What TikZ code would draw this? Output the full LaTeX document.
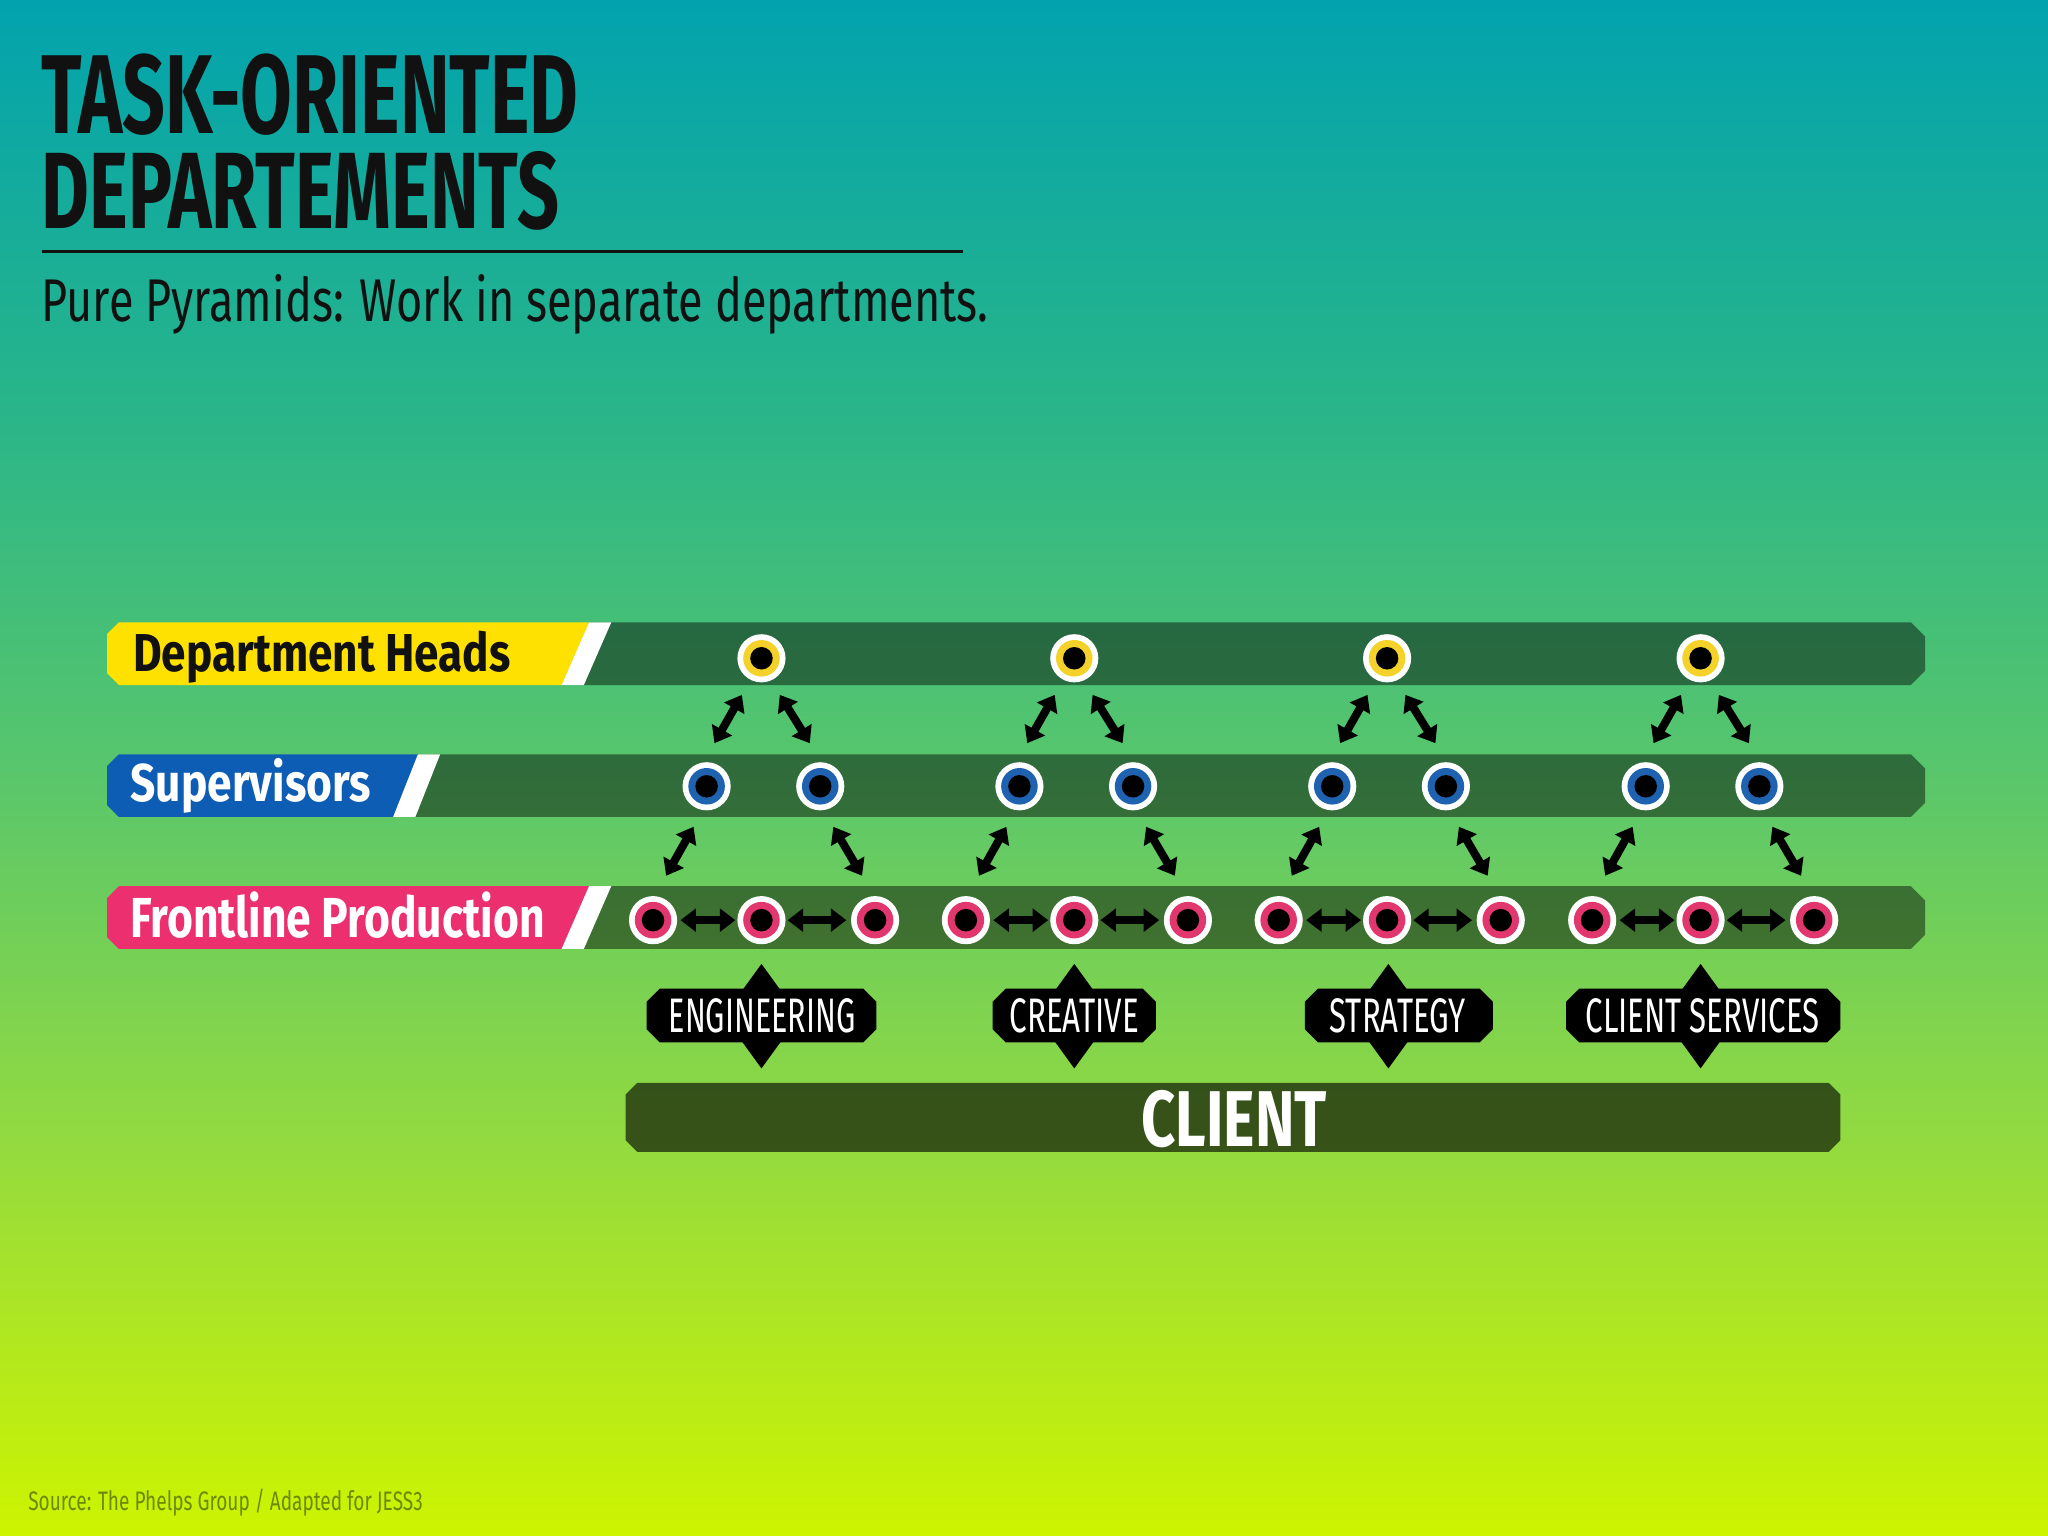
\documentclass[tikz,border=0pt]{standalone}
\usepackage{fontspec}
\usepackage{graphicx}
\setmainfont{Fira Sans}
\usetikzlibrary{arrows.meta,calc}
\newlength\pxu
\setlength\pxu{0.37162pt}
\newcommand\fitt[3]{\resizebox{#1\pxu}{#2\pxu}{#3}}
\definecolor{gA}{HTML}{02A3AE}
\definecolor{gB}{HTML}{26B48B}
\definecolor{gC}{HTML}{58C66C}
\definecolor{gD}{HTML}{95DB3E}
\definecolor{gE}{HTML}{CDF400}
\definecolor{ylab}{HTML}{FFE100}
\definecolor{blab}{HTML}{0D5DB5}
\definecolor{plab}{HTML}{EC2F6E}
\definecolor{yring}{HTML}{F4D22A}
\definecolor{bring}{HTML}{1F62B0}
\definecolor{pring}{HTML}{E2366F}
\definecolor{srccol}{HTML}{6B8A08}
\definecolor{ink}{HTML}{111111}
\begin{document}
\begin{tikzpicture}[x=0.013061cm, y=-0.013061cm,
  txt/.style={inner sep=0pt, outer sep=0pt},
  bar/.style={fill=black, fill opacity=0.45},
  dot/.style={circle, fill=white, minimum size=13.7pt, inner sep=0pt,
    path picture={\fill[#1] (path picture bounding box.center) circle (5.2pt);
                  \fill[black] (path picture bounding box.center) circle (3.2pt);}},
  arr/.style={{Triangle[width=6.4pt,length=4.4pt]}-{Triangle[width=6.4pt,length=4.4pt]}, line width=2.3pt, black},
  tagshape/.style={fill=black},
]
% background
\fill[top color=gA, bottom color=gB] (0,0) rectangle (1568,295);
\fill[top color=gB, bottom color=gC] (0,294) rectangle (1568,589);
\fill[top color=gC, bottom color=gD] (0,588) rectangle (1568,883);
\fill[top color=gD, bottom color=gE] (0,882) rectangle (1568,1176);
\useasboundingbox (0,0) rectangle (1568,1176);

% title (two lines in one node)
\node[txt, anchor=north west, align=left, text=ink, font=\fontsize{10}{27.13pt}\selectfont] (title) at (32,41)
  {\fitt{411}{61}{\bfseries TASK-ORIENTED}\\\fitt{396}{59}{\bfseries DEPARTEMENTS}};
\draw[ink, line width=1pt] (32,192.5) -- (737,192.5);
\node[txt, anchor=base west, text=ink] (sub) at (32,246.5) {\fitt{725}{36}{Pure Pyramids: Work in separate departments.}};

% rows
\foreach \c/\col/\xt/\xb in {500.5/ylab/451/430, 601.5/blab/320/301, 702.5/plab/451/430} {
  \fill[bar] (\xb,\c+24) -- (\xt,\c-24) -- (1463,\c-24) -- (1474,\c-13) -- (1474,\c+13) -- (1463,\c+24) -- cycle;
  \fill[\col] (91,\c-24) -- (\xt,\c-24) -- (\xb,\c+24) -- (91,\c+24) -- (82,\c+15) -- (82,\c-15) -- cycle;
  \fill[white] (\xt,\c-24) -- (\xt+17,\c-24) -- (\xb+17,\c+24) -- (\xb,\c+24) -- cycle;
}
\node[txt, anchor=base west, text=ink] (lh) at (102,514) {\fitt{289}{31}{\bfseries Department Heads}};
\node[txt, anchor=base west, text=white] (ls) at (100,614) {\fitt{184}{33}{\bfseries Supervisors}};
\node[txt, anchor=base west, text=white] (lf) at (100,718) {\fitt{317}{35}{\bfseries Frontline Production}};

% pyramids
\foreach \k/\x in {1/583,2/822.5,3/1062,4/1302} {
  \node[dot=yring] (h\k) at (\x,504) {};
  \node[dot=bring] (sa\k) at (\x-42,602) {};
  \node[dot=bring] (sb\k) at (\x+45,602) {};
  \node[dot=pring] (fa\k) at (\x-83,704.5) {};
  \node[dot=pring] (fb\k) at (\x,704.5) {};
  \node[dot=pring] (fc\k) at (\x+87,704.5) {};
  \draw[arr] ($(h\k)+(-15,28)$) -- ($(sa\k)+(6,-33)$);
  \draw[arr] ($(h\k)+(14,28)$) -- ($(sb\k)+(-8,-33)$);
  \draw[arr] ($(sa\k)+(-10,31)$) -- ($(fa\k)+(10,-34)$);
  \draw[arr] ($(sb\k)+(10,31)$) -- ($(fc\k)+(-10,-34)$);
  \draw[arr] ($(fa\k)+(21,0)$) -- ($(fb\k)+(-20,0)$);
  \draw[arr] ($(fb\k)+(20,0)$) -- ($(fc\k)+(-22,0)$);
}

% department tags
\foreach \a/\b/\d in {495/671/583, 760/885/822.5, 999/1143/1063, 1199/1409/1302} {
  \fill[tagshape] (\a+10,757) -- (\b-10,757) -- (\b,767) -- (\b,788) -- (\b-10,798) -- (\a+10,798) -- (\a,788) -- (\a,767) -- cycle;
  \fill[tagshape] (\d,738) -- (\d+29,778) -- (\d,818) -- (\d-29,778) -- cycle;
}
\node[txt, text=white] (eng) at (583.5,777.5) {\fitt{143}{26}{ENGINEERING}};
\node[txt, text=white] (cre) at (822.5,777.5) {\fitt{99}{26}{CREATIVE}};
\node[txt, text=white] (str) at (1070,777.5) {\fitt{104}{26}{STRATEGY}};
\node[txt, text=white] (cs) at (1303.5,777.5) {\fitt{179}{26}{CLIENT SERVICES}};

% client bar
\fill[black, fill opacity=0.62] (488,829) -- (1400,829) -- (1409,838) -- (1409,873) -- (1400,882) -- (488,882) -- (479,873) -- (479,838) -- cycle;
\node[txt, text=white] (client) at (945,856.5) {\fitt{142}{43}{\bfseries CLIENT}};

% source
\node[txt, anchor=base west, text=srccol] (src) at (21.7,1156.7) {\fitt{302}{16.5}{Source: The Phelps Group / Adapted for JESS3}};
\end{tikzpicture}
\end{document}
